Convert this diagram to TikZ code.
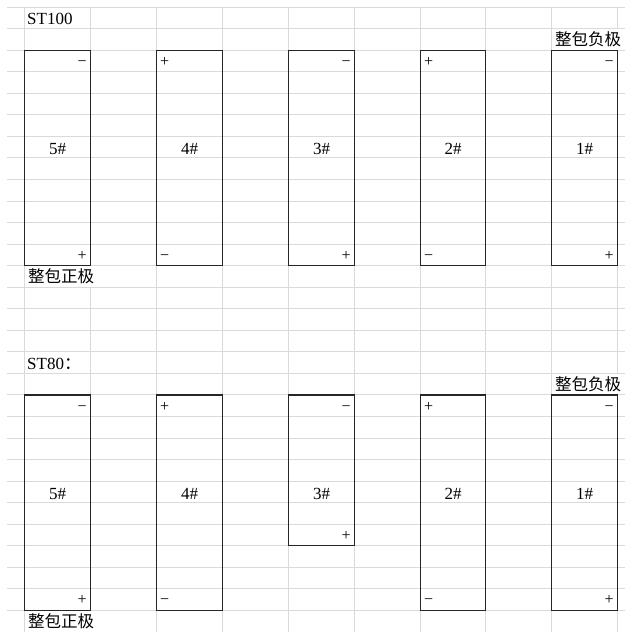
\documentclass[tikz,border=0pt]{standalone}
\usepackage{fontspec}
\setmainfont{Liberation Serif}
\newfontfamily\cjk{Noto Sans CJK SC}
\definecolor{gridc}{HTML}{DADADA}
\definecolor{boxc}{HTML}{262626}
\begin{document}
\begin{tikzpicture}[x=1pt,y=-1pt,
  gridline/.style={draw=gridc,line width=0.9pt},
  cellbox/.style={draw=boxc,line width=1.2pt,inner sep=0,outer sep=0,anchor=north west},
  lbl/.style={font=\fontsize{17}{17}\selectfont,inner sep=0,anchor=base},
  hdr/.style={font=\fontsize{17}{17}\selectfont,inner sep=0,anchor=base west},
  zh/.style={font=\cjk\fontsize{16.5}{16.5}\selectfont,inner sep=0,anchor=west},
  pol/.style={font=\fontsize{16}{16}\selectfont,inner sep=0}]
\useasboundingbox (0,0) rectangle (625,632);
% horizontal grid lines
\foreach \k in {0,...,28} \draw[gridline] (7,{7+21.55*\k}) -- (625,{7+21.55*\k});
% vertical grid lines
\foreach \x in {24.5,156.5,222.5,288.5,354.5,420.5,485.5,551.5} \draw[gridline] (\x,7) -- (\x,632);
\draw[gridline] (90.5,7) -- (90.5,265.6);
\draw[gridline] (90.5,287.15) -- (90.5,610.4);
\draw[gridline] (617.5,7) -- (617.5,28.55);
\draw[gridline] (617.5,50.1) -- (617.5,373.35);
\draw[gridline] (617.5,394.9) -- (617.5,632);

% headers
\node[hdr] (st100) at (27,24.75) {ST100};
\node[hdr] (st80) at (27,369.55) {ST80{\cjk ：}};
\node[zh] (negA) at (555,39.3) {整包负极};
\node[zh] (posA) at (28,276.4) {整包正极};
\node[zh] (negB) at (555,384.2) {整包负极};
\node[zh] (posB) at (28,621.3) {整包正极};

% top section boxes
\node[cellbox,minimum width=66pt,minimum height=215.5pt] (t5) at (24.5,50.1) {};
\node[cellbox,minimum width=66pt,minimum height=215.5pt] (t4) at (156.5,50.1) {};
\node[cellbox,minimum width=66pt,minimum height=215.5pt] (t3) at (288.5,50.1) {};
\node[cellbox,minimum width=65pt,minimum height=215.5pt] (t2) at (420.5,50.1) {};
\node[cellbox,minimum width=66pt,minimum height=215.5pt] (t1) at (551.5,50.1) {};
\node[lbl] (t5l) at (57.5,154.25) {5\#};
\node[lbl] (t4l) at (189.5,154.25) {4\#};
\node[lbl] (t3l) at (321.5,154.25) {3\#};
\node[lbl] (t2l) at (453,154.25) {2\#};
\node[lbl] (t1l) at (584.5,154.25) {1\#};
% polarity signs top
\node[pol,anchor=base east] (t5a) at (86.8,66.2) {−};
\node[pol,anchor=base east] (t5b) at (86.8,260.1) {+};
\node[pol,anchor=base west] (t4a) at (160,66.2) {+};
\node[pol,anchor=base west] (t4b) at (160,260.1) {−};
\node[pol,anchor=base east] (t3a) at (350.8,66.2) {−};
\node[pol,anchor=base east] (t3b) at (350.8,260.1) {+};
\node[pol,anchor=base west] (t2a) at (424,66.2) {+};
\node[pol,anchor=base west] (t2b) at (424,260.1) {−};
\node[pol,anchor=base east] (t1a) at (613.8,66.2) {−};
\node[pol,anchor=base east] (t1b) at (613.8,260.1) {+};

% bottom section boxes
\node[cellbox,minimum width=66pt,minimum height=215.5pt] (b5) at (24.5,394.9) {};
\node[cellbox,minimum width=66pt,minimum height=215.5pt] (b4) at (156.5,394.9) {};
\node[cellbox,minimum width=66pt,minimum height=150.85pt] (b3) at (288.5,394.9) {};
\node[cellbox,minimum width=65pt,minimum height=215.5pt] (b2) at (420.5,394.9) {};
\node[cellbox,minimum width=66pt,minimum height=215.5pt] (b1) at (551.5,394.9) {};
\node[lbl] (b5l) at (57.5,499.05) {5\#};
\node[lbl] (b4l) at (189.5,499.05) {4\#};
\node[lbl] (b3l) at (321.5,499.05) {3\#};
\node[lbl] (b2l) at (453,499.05) {2\#};
\node[lbl] (b1l) at (584.5,499.05) {1\#};
% polarity signs bottom
\node[pol,anchor=base east] (b5a) at (86.8,411) {−};
\node[pol,anchor=base east] (b5b) at (86.8,604.9) {+};
\node[pol,anchor=base west] (b4a) at (160,411) {+};
\node[pol,anchor=base west] (b4b) at (160,604.9) {−};
\node[pol,anchor=base east] (b3a) at (350.8,411) {−};
\node[pol,anchor=base east] (b3b) at (350.8,540.3) {+};
\node[pol,anchor=base west] (b2a) at (424,411) {+};
\node[pol,anchor=base west] (b2b) at (424,604.9) {−};
\node[pol,anchor=base east] (b1a) at (613.8,411) {−};
\node[pol,anchor=base east] (b1b) at (613.8,604.9) {+};
\end{tikzpicture}
\end{document}
